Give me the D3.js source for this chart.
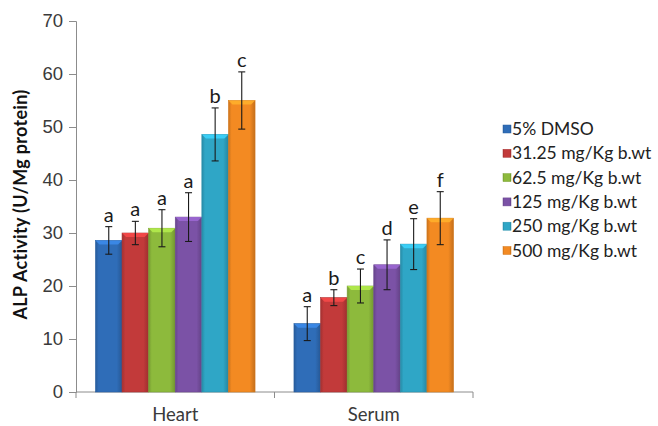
<!DOCTYPE html>
<html>
<head>
<meta charset="utf-8">
<script src="https://cdn.jsdelivr.net/npm/d3@7"></script>
<style>
  body { margin: 0; background: #fff; }
  svg { display: block; font-family: Lato, "Open Sans", sans-serif; }
</style>
</head>
<body>
<div id="chart"></div>
<script>
// data
const groups = ['Heart', 'Serum'];
const series = ['5% DMSO', '31.25 mg/Kg b.wt', '62.5 mg/Kg b.wt', '125 mg/Kg b.wt', '250 mg/Kg b.wt', '500 mg/Kg b.wt'];
const heartValues = [28.6, 30.0, 30.9, 33.0, 48.6, 55.0];
const heartErrors = [2.6, 2.2, 3.5, 4.6, 5.0, 5.4];
const heartLetters = ['a', 'a', 'a', 'a', 'b', 'c'];
const serumValues = [12.9, 17.8, 20.0, 24.0, 27.9, 32.8];
const serumErrors = [3.2, 1.5, 3.2, 4.7, 4.8, 5.0];
const serumLetters = ['a', 'b', 'c', 'd', 'e', 'f'];
const yTicks = [0, 10, 20, 30, 40, 50, 60, 70];

const colors = ['#2f6db8', '#c23a3a', '#8dba3c', '#7b52a6', '#2fa6c6', '#f38a22'];

const rows = [
  { group: 'Heart', values: heartValues, errors: heartErrors, letters: heartLetters },
  { group: 'Serum', values: serumValues, errors: serumErrors, letters: serumLetters }
];

const width = 658, height = 426;
const margin = { top: 21, right: 185, bottom: 34, left: 76 };

const svg = d3.select('#chart').append('svg')
  .attr('width', width)
  .attr('height', height);

const x0 = d3.scaleBand()
  .domain(groups)
  .range([margin.left, width - margin.right])
  .paddingInner(0.196)
  .paddingOuter(0.098);

const x1 = d3.scaleBand()
  .domain(series)
  .range([0, x0.bandwidth()]);

const y = d3.scaleLinear()
  .domain([0, 70])
  .range([height - margin.bottom, margin.top]);

// gradients to mimic the bevelled Excel bars
const defs = svg.append('defs');
colors.forEach((c, i) => {
  const g = defs.append('linearGradient').attr('id', 'grad' + i)
    .attr('x1', '0%').attr('x2', '100%').attr('y1', '0%').attr('y2', '0%');
  const base = d3.color(c);
  g.append('stop').attr('offset', '0%').attr('stop-color', base.darker(0.5));
  g.append('stop').attr('offset', '12%').attr('stop-color', base);
  g.append('stop').attr('offset', '80%').attr('stop-color', base);
  g.append('stop').attr('offset', '100%').attr('stop-color', base.darker(0.6));
});

// axes
const axisColor = '#8c8c8c';
const plotLeft = margin.left, plotRight = width - margin.right;

const yAxis = svg.append('g')
  .attr('transform', `translate(${plotLeft},0)`)
  .call(d3.axisLeft(y).tickValues(yTicks).tickSize(7).tickPadding(6));
yAxis.select('.domain').attr('stroke', axisColor);
yAxis.selectAll('.tick line').attr('stroke', axisColor);
yAxis.selectAll('.tick text')
  .attr('fill', '#3a3a3a')
  .style('font-size', '18.5px');

const xAxis = svg.append('g')
  .attr('transform', `translate(0,${y(0)})`);
xAxis.append('line')
  .attr('x1', plotLeft).attr('x2', plotRight)
  .attr('stroke', axisColor);
xAxis.selectAll('line.cat')
  .data([0, 1, 2])
  .enter().append('line')
  .attr('class', 'cat')
  .attr('x1', d => plotLeft + d * (plotRight - plotLeft) / 2)
  .attr('x2', d => plotLeft + d * (plotRight - plotLeft) / 2)
  .attr('y1', 0).attr('y2', 6)
  .attr('stroke', axisColor);
xAxis.selectAll('text')
  .data(groups)
  .enter().append('text')
  .attr('x', d => x0(d) + x0.bandwidth() / 2)
  .attr('y', 29)
  .attr('text-anchor', 'middle')
  .attr('fill', '#3a3a3a')
  .style('font-size', '18.5px')
  .text(d => d);

// bars
const groupsG = svg.selectAll('.grp')
  .data(rows)
  .enter().append('g')
  .attr('class', 'grp')
  .attr('transform', d => `translate(${x0(d.group)},0)`);

groupsG.each(function (row) {
  const g = d3.select(this);
  const items = series.map((s, i) => ({
    s, i, v: row.values[i], e: row.errors[i], l: row.letters[i]
  }));

  g.selectAll('rect.bar')
    .data(items)
    .enter().append('rect')
    .attr('class', 'bar')
    .attr('x', d => x1(d.s))
    .attr('y', d => y(d.v))
    .attr('width', x1.bandwidth())
    .attr('height', d => y(0) - y(d.v))
    .attr('fill', d => `url(#grad${d.i})`)
    .attr('stroke', d => d3.color(colors[d.i]).darker(0.4))
    .attr('stroke-width', 0.6);

  // lighter top bevel
  g.selectAll('path.bevel')
    .data(items)
    .enter().append('path')
    .attr('class', 'bevel')
    .attr('d', d => {
      const xl = x1(d.s), xr = xl + x1.bandwidth(), yt = y(d.v);
      return `M${xl},${yt}L${xr},${yt}L${xr - 4},${yt + 4}L${xl + 4},${yt + 4}Z`;
    })
    .attr('fill', d => d3.color(colors[d.i]).brighter(0.7))
    .attr('opacity', 0.85);

  // error bars
  const eb = g.selectAll('g.err')
    .data(items)
    .enter().append('g')
    .attr('class', 'err')
    .attr('stroke', '#1a1a1a')
    .attr('stroke-width', 1.1);
  eb.append('line')
    .attr('x1', d => x1(d.s) + x1.bandwidth() / 2)
    .attr('x2', d => x1(d.s) + x1.bandwidth() / 2)
    .attr('y1', d => y(d.v + d.e))
    .attr('y2', d => y(d.v - d.e));
  [1, -1].forEach(sign => {
    eb.append('line')
      .attr('x1', d => x1(d.s) + x1.bandwidth() / 2 - 3.5)
      .attr('x2', d => x1(d.s) + x1.bandwidth() / 2 + 3.5)
      .attr('y1', d => y(d.v + sign * d.e))
      .attr('y2', d => y(d.v + sign * d.e));
  });

  // significance letters
  g.selectAll('text.sig')
    .data(items)
    .enter().append('text')
    .attr('class', 'sig')
    .attr('x', d => x1(d.s) + x1.bandwidth() / 2)
    .attr('y', d => y(d.v + d.e) - 5)
    .attr('text-anchor', 'middle')
    .attr('fill', '#1a1a1a')
    .style('font-size', '20px')
    .text(d => d.l);
});

// y axis title
svg.append('text')
  .attr('transform', `translate(27,${(y(0) + y(70)) / 2 - 2}) rotate(-90)`)
  .attr('text-anchor', 'middle')
  .attr('fill', '#111')
  .style('font-size', '18px')
  .style('font-weight', 'bold')
  .style('letter-spacing', '0.3px')
  .text('ALP Activity (U/Mg protein)');

// legend
const legend = svg.append('g')
  .attr('transform', 'translate(503,129)');
const li = legend.selectAll('g')
  .data(series)
  .enter().append('g')
  .attr('transform', (d, i) => `translate(0,${i * 24.3})`);
li.append('rect')
  .attr('x', 0).attr('y', -4)
  .attr('width', 8).attr('height', 8)
  .attr('fill', (d, i) => `url(#grad${i})`)
  .attr('stroke', (d, i) => d3.color(colors[i]).darker(0.4))
  .attr('stroke-width', 0.5);
li.append('text')
  .attr('x', 9)
  .attr('y', 0)
  .attr('dy', '0.35em')
  .attr('fill', '#222')
  .style('font-size', '17.5px')
  .text(d => d);
</script>
</body>
</html>
